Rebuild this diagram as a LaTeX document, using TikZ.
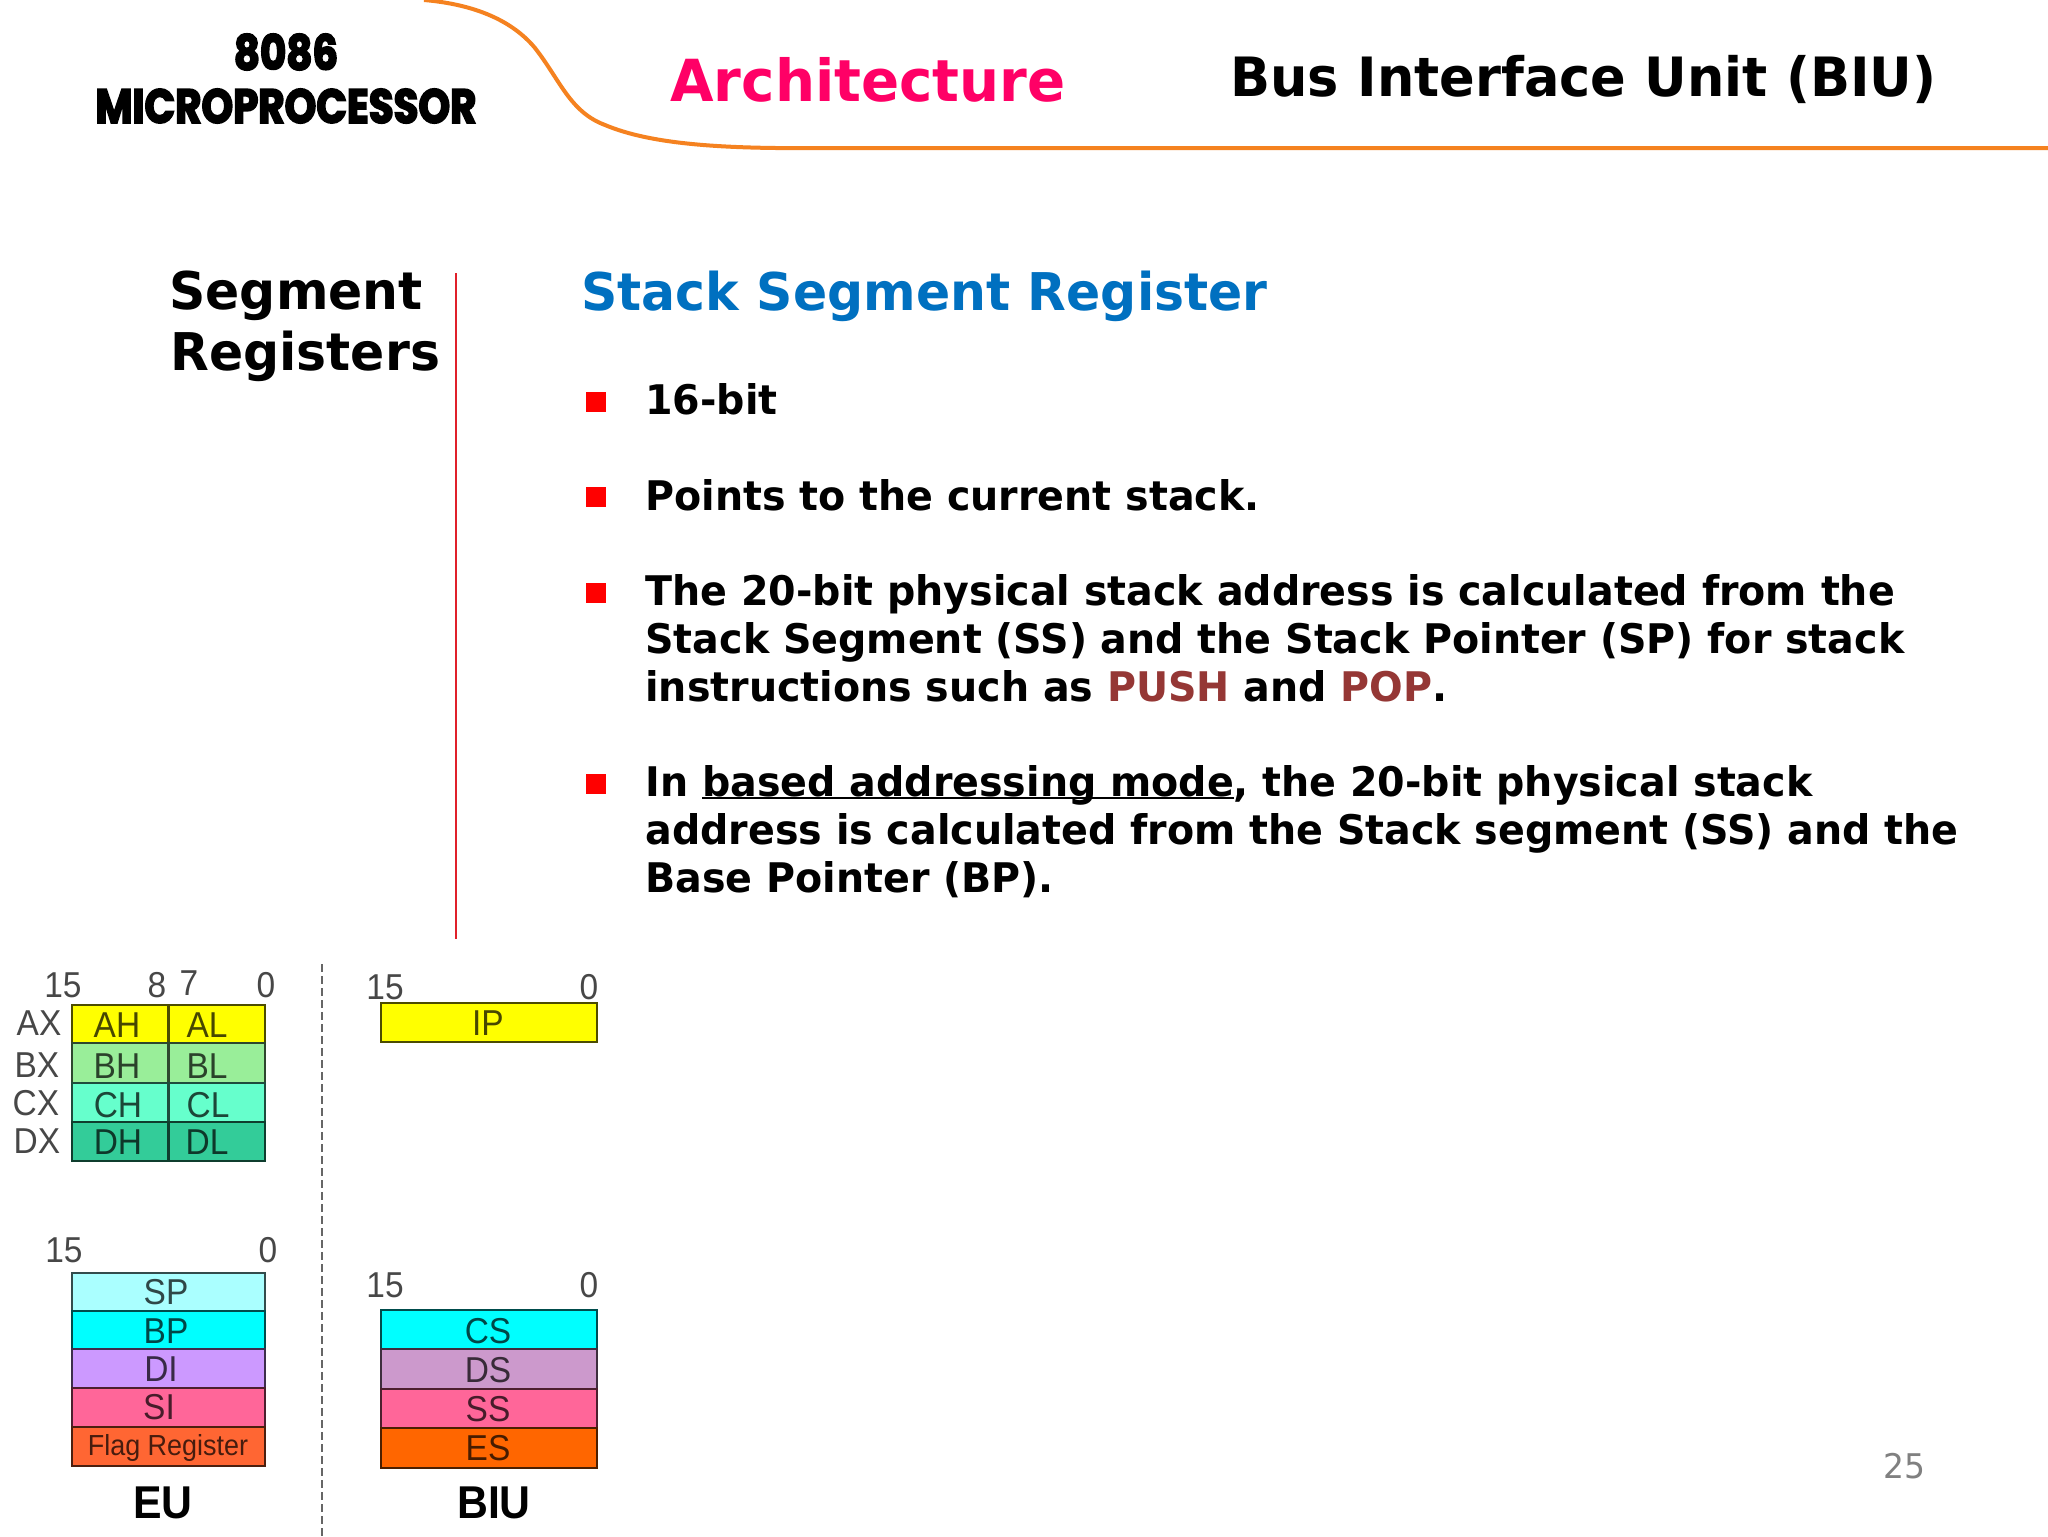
\documentclass[tikz,border=0pt]{standalone}
\usepackage{fontspec}
\setmainfont[FakeStretch=0.97]{DejaVu Sans}
\newfontfamily\regfont[FakeStretch=0.93]{Liberation Sans}
\newfontfamily\blobfont[FakeStretch=0.84,BoldFeatures={FakeBold=3.5,FakeStretch=0.84}]{Poppins}
\definecolor{curve}{HTML}{F58220}
\definecolor{pinkt}{HTML}{FF0066}
\definecolor{bluet}{HTML}{0070C0}
\definecolor{brownt}{HTML}{953735}
\definecolor{rule}{HTML}{E0202A}
\definecolor{ryel}{HTML}{FFFF00}
\definecolor{rbx}{HTML}{99EE99}
\definecolor{rcx}{HTML}{66FFCC}
\definecolor{rdx}{HTML}{33CC99}
\definecolor{rsp}{HTML}{AAFFFF}
\definecolor{rcy}{HTML}{00FFFF}
\definecolor{rdi}{HTML}{CC99FF}
\definecolor{rpk}{HTML}{FF6699}
\definecolor{rfl}{HTML}{FF6633}
\definecolor{rds}{HTML}{CC99CC}
\definecolor{res}{HTML}{FF6600}
\newsavebox{\ulbox}
\newcommand{\lowline}[1]{\sbox{\ulbox}{#1}\rlap{\rule[-1.6pt]{\wd\ulbox}{1.1pt}}\usebox{\ulbox}}
\tikzset{
 x=0.5pt,y=-0.5pt,
 txt/.style={anchor=base west,inner sep=0,font=\bfseries\fontsize{20.4}{20.4}\selectfont,text=black},
 head/.style={anchor=base west,inner sep=0,font=\bfseries\fontsize{26}{26}\selectfont,text=black},
 blt/.style={fill=red,draw=none,minimum size=10pt,inner sep=0},
 lab/.style={inner sep=0,font=\regfont\fontsize{18}{18}\selectfont,text=black,text opacity=0.72},
}
\newcommand{\regbox}[6]{% name x1 y1 x2 y2 fill
 \path[fill=#6,draw=black!70!#6,line width=1.2pt] (#2,#3) rectangle (#4,#5);
 \coordinate (#1) at ({(#2+#4)/2},{(#3+#5)/2});}
\begin{document}
\begin{tikzpicture}
\useasboundingbox (0,0) rectangle (2048,1536);
\path[fill=white] (0,0) rectangle (2048,1536);
% top curve
\draw[curve,line width=2pt] (424,0) .. controls (470,4) and (510,18) .. (535,48) .. controls (560,80) and (570,112) .. (605,125) .. controls (650,144) and (720,149) .. (820,148) -- (2048,148);
% header
\node[inner sep=0,font=\blobfont\bfseries\fontsize{24}{24}\selectfont] (t1) at (286,52) {8086};
\node[inner sep=0,font=\blobfont\bfseries\fontsize{24}{24}\selectfont] (t2) at (286,106) {MICROPROCESSOR};
\node[head,text=pinkt,font=\bfseries\fontsize{29}{29}\selectfont] (arch) at (670,102) {Architecture};
\node[head,font=\bfseries\fontsize{27.1}{27.1}\selectfont] (biu) at (1230,97) {Bus Interface Unit (BIU)};
% side title
\node[head] (s1) at (169,309) {Segment};
\node[head] (s2) at (170,370) {Registers};
\draw[rule,line width=1.2pt] (456,273) -- (456,939);
% main
\node[head,text=bluet] (st) at (581,310) {Stack Segment Register};
\foreach \n/\y in {b1/402,b2/497,b3/593,b4/784}{\node[blt] (\n) at (596,\y) {};}
\node[txt] (l1) at (645,414) {16-bit};
\node[txt] (l2) at (645,510) {Points to the current stack.};
\node[txt] (l3) at (645,605) {The 20-bit physical stack address is calculated from the};
\node[txt] (l4) at (645,653) {Stack Segment (SS) and the Stack Pointer (SP) for stack};
\node[txt] (l5) at (645,701) {instructions such as \textcolor{brownt}{PUSH} and \textcolor{brownt}{POP}.};
\node[txt] (l6) at (645,796) {In \lowline{based addressing mode}, the 20-bit physical stack};
\node[txt] (l7) at (645,844) {address is calculated from the Stack segment (SS) and the};
\node[txt] (l8) at (645,892) {Base Pointer (BP).};
% divider
\draw[black!60,line width=1.4pt,dash pattern=on 4pt off 2pt] (322,964) -- (322,1536);
% registers EU top
\regbox{ah}{72}{1005}{168.5}{1043}{ryel}
\regbox{al}{168.5}{1005}{265}{1043}{ryel}
\regbox{bh}{72}{1043}{168.5}{1083}{rbx}
\regbox{bl}{168.5}{1043}{265}{1083}{rbx}
\regbox{ch}{72}{1083}{168.5}{1122}{rcx}
\regbox{cl}{168.5}{1083}{265}{1122}{rcx}
\regbox{dh}{72}{1122}{168.5}{1161}{rdx}
\regbox{dl}{168.5}{1122}{265}{1161}{rdx}
\foreach \t/\x/\y in {AH/117/1025,AL/207/1025,BH/117/1066,BL/207/1066,CH/118/1105,CL/208/1105,DH/118/1142,DL/207/1142}{\node[lab] at (\x,\y) {\t};}
\foreach \t/\x/\y in {AX/39/1023,BX/37/1065,CX/36/1103,DX/37/1141}{\node[lab] at (\x,\y) {\t};}
\foreach \t/\x/\y in {15/63/985,8/157/985,7/189/983,0/266/985,15/385/987,0/589/987,15/64/1250,0/268/1250,15/385/1285,0/589/1285}{\node[lab] at (\x,\y) {\t};}
% IP
\regbox{ip}{381}{1003}{597}{1042}{ryel}
\node[lab] at (488,1023) {IP};
% EU stack
\regbox{sp}{72}{1273}{265}{1311}{rsp}
\regbox{bp}{72}{1311}{265}{1349}{rcy}
\regbox{di}{72}{1349}{265}{1388}{rdi}
\regbox{si}{72}{1388}{265}{1427}{rpk}
\regbox{fr}{72}{1427}{265}{1466}{rfl}
\foreach \t/\x/\y in {SP/166/1292,BP/166/1331,DI/161/1369,SI/159/1407}{\node[lab] at (\x,\y) {\t};}
\node[lab,font=\regfont\fontsize{14.5}{14.5}\selectfont] at (168,1448) {Flag Register};
% BIU stack
\regbox{cs}{381}{1310}{597}{1349}{rcy}
\regbox{ds}{381}{1349}{597}{1389}{rds}
\regbox{ss}{381}{1389}{597}{1428}{rpk}
\regbox{es}{381}{1428}{597}{1468}{res}
\foreach \t/\y in {CS/1331,DS/1370,SS/1409,ES/1448}{\node[lab] at (488,\y) {\t};}
\node[inner sep=0,font=\regfont\bfseries\fontsize{23}{23}\selectfont] (eu) at (163,1503) {EU};
\node[inner sep=0,font=\regfont\bfseries\fontsize{23}{23}\selectfont] (biul) at (494,1503) {BIU};
\node[inner sep=0,font=\fontsize{17}{17}\selectfont,text=black!50] (pg) at (1904,1466) {25};
\end{tikzpicture}
\end{document}
